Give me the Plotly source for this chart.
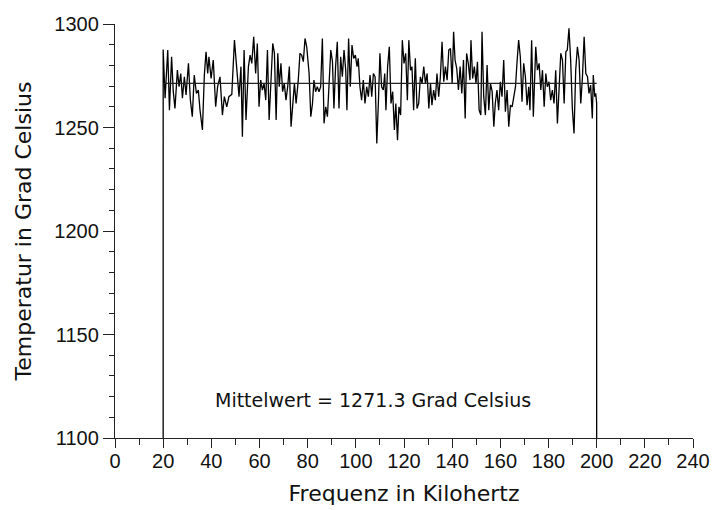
import plotly.graph_objects as go

FREQ_KHZ = [
    20.0, 20.8, 21.9, 22.6, 23.5, 24.2, 24.9, 25.9, 26.6, 27.3, 28.0, 28.8, 29.5, 30.5, 31.3, 32.1, 32.9,
    33.8, 34.6, 35.3, 36.3, 37.1, 37.8, 38.5, 39.0, 39.9, 40.8, 41.8, 42.6, 43.6, 44.6, 45.4, 46.4, 47.3,
    48.5, 49.6, 50.5, 51.5, 52.3, 52.9, 53.6, 54.4, 55.4, 56.1, 56.8, 57.6, 58.4, 59.1, 59.8, 60.5, 61.2,
    61.9, 62.6, 63.3, 64.0, 64.6, 65.5, 66.2, 66.9, 67.6, 68.2, 68.9, 69.6, 70.3, 71.0, 71.7, 72.4, 73.1,
    73.8, 74.5, 75.2, 76.1, 76.8, 77.5, 78.2,
    78.9, 79.6, 80.6, 81.3, 82.0, 82.6, 83.3, 84.0, 84.7, 85.4, 86.1, 86.8, 87.5, 88.2, 88.9, 89.6, 90.3,
    90.9, 91.6, 92.3, 93.0, 93.7, 94.4, 95.1, 95.8, 96.3, 97.0, 97.7, 98.4, 99.1, 99.8, 100.5, 101.0,
    101.7, 102.4, 103.1, 103.8, 104.5, 105.2, 105.9, 106.6, 107.3, 108.0, 108.7, 109.4,
    110.0, 110.7, 111.4, 112.0, 112.5, 113.2, 113.9, 114.6, 115.3, 116.0, 116.6, 117.3, 117.9, 118.6,
    119.3, 120.0, 120.7, 121.4, 122.0, 122.7, 123.3, 124.0, 124.7, 125.4, 126.1, 126.8, 127.5, 128.2,
    128.9, 129.6, 130.3, 131.0, 131.6, 132.3, 133.0, 133.7, 134.4, 135.1, 135.8, 136.5, 137.2, 137.9,
    138.6, 139.3, 140.0, 140.6,
    141.2, 141.9, 142.6, 143.3, 144.0, 144.7, 145.4, 146.0, 146.7, 147.4, 147.8, 148.5, 149.2, 149.9,
    150.5, 151.2, 151.9, 152.4, 153.1, 153.8, 154.5, 155.2, 155.9, 156.6, 157.3, 157.9, 158.6, 159.3,
    160.0, 160.7, 161.4, 162.1, 162.8, 163.5, 164.2, 164.9, 165.6, 166.3, 166.9, 167.6, 168.3, 169.0,
    169.7, 170.4, 171.1, 171.8,
    172.3, 173.0, 173.7, 174.7, 175.4, 176.1, 176.8, 177.5, 178.2, 178.9, 179.5, 180.2, 180.9, 181.6,
    182.3, 183.0, 183.7, 184.4, 185.1, 185.8, 186.5, 187.2, 187.8, 188.5, 189.2, 189.9, 190.6, 191.3,
    192.0, 192.7, 193.4, 194.1, 194.8, 195.5, 196.2, 196.8, 197.5, 198.2, 198.6, 199.2, 199.6, 200.0,
]

TEMP_C = [
    1287.7, 1264.1, 1287.4, 1258.4, 1284.2, 1267.3, 1259.2, 1277.7, 1269.7, 1276.1, 1264.1, 1274.5, 1265.7,
    1281.0, 1263.2, 1255.2, 1275.3, 1266.5, 1268.1, 1258.4, 1248.8, 1275.3, 1286.6, 1276.1, 1284.2, 1273.7,
    1282.6, 1260.0, 1269.7, 1274.5, 1256.0, 1264.9, 1260.0, 1264.9,
    1266.0, 1292.2, 1281.0, 1264.9, 1279.4, 1245.5, 1287.4, 1253.6, 1279.4, 1285.0, 1281.0, 1293.8, 1276.1,
    1290.6, 1260.0, 1272.9, 1268.1, 1271.3, 1263.2, 1287.4, 1253.6, 1268.1, 1290.6, 1285.8, 1253.6, 1285.8,
    1269.7, 1281.0, 1267.3, 1271.3, 1263.2, 1269.7, 1279.4, 1250.4, 1260.0, 1271.3, 1261.6, 1272.9, 1285.8,
    1285.0, 1281.8,
    1293.0, 1289.0, 1276.1, 1255.2, 1261.6, 1272.9, 1267.3, 1269.7, 1267.3, 1269.7, 1293.0, 1252.0, 1260.0,
    1255.2, 1269.7, 1287.4, 1281.8, 1259.2, 1279.4, 1291.4, 1259.2, 1284.2, 1274.5, 1287.4, 1277.7, 1258.4,
    1293.0, 1269.7, 1289.8, 1283.4, 1285.0, 1279.4, 1283.4, 1269.7, 1263.2, 1272.9, 1261.6, 1269.7, 1264.9,
    1275.3, 1264.9, 1276.1, 1274.5, 1242.3, 1263.2,
    1285.8, 1269.7, 1268.1, 1276.1, 1258.4, 1279.4, 1289.0, 1261.6, 1267.3, 1248.8, 1261.6, 1243.9, 1260.0,
    1256.0, 1292.2, 1281.0, 1285.8, 1263.2, 1292.2, 1277.7, 1279.4, 1258.4, 1283.4, 1259.2, 1261.6, 1274.5,
    1271.3, 1279.4, 1271.3, 1276.1, 1259.2, 1271.3, 1260.8, 1268.1, 1263.2, 1276.1, 1264.9, 1274.5, 1291.4,
    1272.1, 1279.4, 1272.9, 1287.4, 1288.2, 1271.3, 1296.3,
    1282.6, 1278.5, 1268.1, 1279.4, 1266.5, 1282.6, 1254.4, 1285.8, 1281.0, 1272.9, 1292.2, 1273.7, 1279.4,
    1271.3, 1281.8, 1258.4, 1256.0, 1296.3, 1264.9, 1256.0, 1280.2, 1258.4, 1271.3, 1267.3, 1250.4, 1261.6,
    1268.1, 1258.4, 1272.1, 1264.9, 1282.6, 1257.6, 1268.1, 1250.4, 1260.8, 1260.0, 1264.9, 1269.7, 1281.0,
    1292.2, 1284.2, 1262.4, 1281.0, 1274.5, 1260.8, 1269.7,
    1258.4, 1292.2, 1255.2, 1289.0, 1277.7, 1281.0, 1268.1, 1277.7, 1260.0, 1276.1, 1269.7, 1272.1, 1263.2,
    1268.1, 1261.6, 1277.7, 1252.0, 1269.7, 1285.8, 1282.6, 1261.6, 1286.6, 1287.4, 1297.9, 1282.6, 1259.2,
    1247.1, 1277.7, 1289.0, 1282.6, 1261.6, 1274.5, 1293.8, 1276.1, 1274.5, 1266.5, 1270.5, 1254.4, 1275.3,
    1264.9, 1266.5, 1261.6,
]

MEAN_TEMP = 1271.3
X_RANGE = [0, 240]
Y_RANGE = [1100, 1300]

X_LABEL = "Frequenz in Kilohertz"
Y_LABEL = "Temperatur in Grad Celsius"
MEAN_LABEL = f"Mittelwert = {MEAN_TEMP} Grad Celsius"

INK = "#111111"
AXIS_COLOR = "#222222"
TICK_FONT = dict(family="Liberation Sans", size=20, color=INK)
TITLE_FONT = dict(family="DejaVu Sans", size=22, color=INK)

fig = go.Figure()

# measured curve, closed down to the bottom of the axis at both ends
fig.add_trace(go.Scatter(
    x=[FREQ_KHZ[0]] + FREQ_KHZ + [FREQ_KHZ[-1]],
    y=[Y_RANGE[0]] + TEMP_C + [Y_RANGE[0]],
    mode="lines",
    line=dict(color="black", width=1.3),
    showlegend=False,
))

# mean value line
fig.add_trace(go.Scatter(
    x=[FREQ_KHZ[0], FREQ_KHZ[-1]],
    y=[MEAN_TEMP, MEAN_TEMP],
    mode="lines",
    line=dict(color=AXIS_COLOR, width=1.2),
    showlegend=False,
))

fig.add_annotation(
    x=107, y=1118.5, xref="x", yref="y",
    text=MEAN_LABEL, showarrow=False,
    xanchor="center", yanchor="middle",
    font=dict(family="DejaVu Sans", size=19, color=INK),
)

axis_common = dict(
    showgrid=False,
    zeroline=False,
    showline=True,
    linecolor=AXIS_COLOR,
    linewidth=1.3,
    ticks="outside",
    tickcolor=AXIS_COLOR,
    tickwidth=1.3,
    tickfont=TICK_FONT,
    automargin=False,
    fixedrange=True,
)

fig.update_layout(
    width=713,
    height=510,
    margin=dict(l=115, r=20, t=24, b=72),
    paper_bgcolor="white",
    plot_bgcolor="white",
    hovermode=False,
    xaxis=dict(
        range=X_RANGE,
        dtick=20,
        ticklen=9,
        ticklabelstandoff=-4,
        minor=dict(dtick=10, ticklen=6, ticks="outside", tickcolor=AXIS_COLOR, tickwidth=1.3),
        title=dict(text=X_LABEL, font=TITLE_FONT, standoff=14),
        **axis_common,
    ),
    yaxis=dict(
        range=Y_RANGE,
        dtick=50,
        ticklen=11,
        minor=dict(dtick=10, ticklen=5, ticks="outside", tickcolor=AXIS_COLOR, tickwidth=1.3),
        title=dict(text=Y_LABEL, font=TITLE_FONT, standoff=16),
        **axis_common,
    ),
)

# drop the default page margin so the figure sits flush in the window
fig.write_html(
    "out.html",
    config={"displayModeBar": False},
    post_script="document.body.style.margin = '0'; document.body.style.overflow = 'hidden';",
)
